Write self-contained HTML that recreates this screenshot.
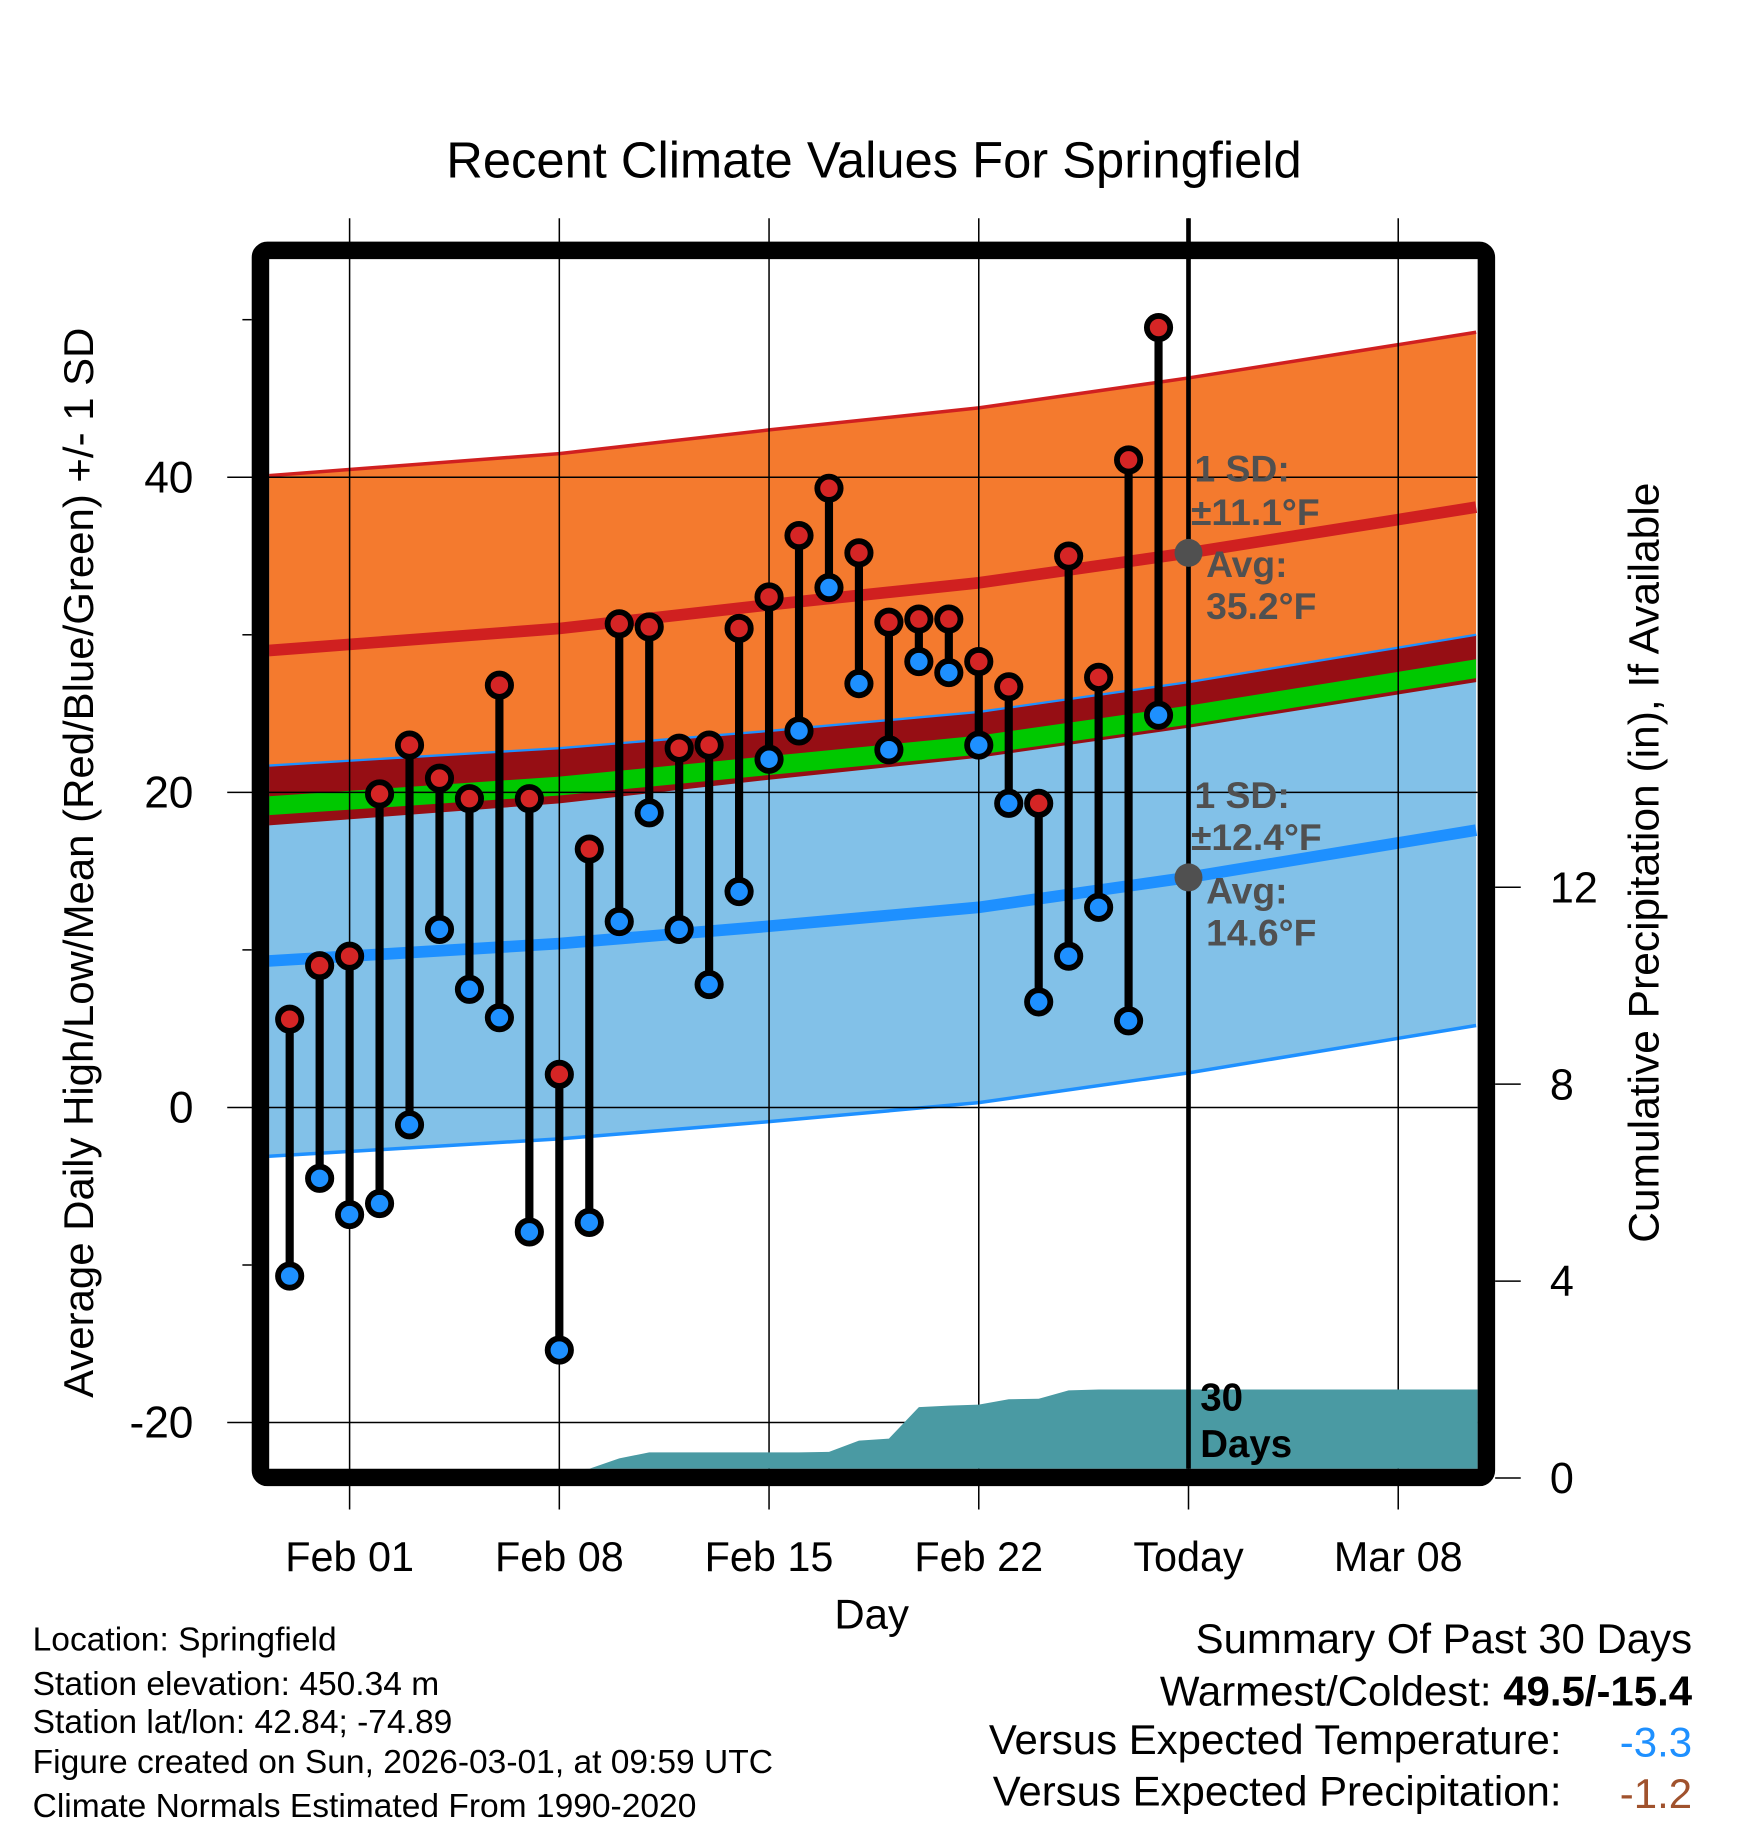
<!DOCTYPE html>
<html><head><meta charset="utf-8"><style>
html,body{margin:0;padding:0;background:#fff}
svg{display:block}
text{font-family:"Liberation Sans",Arial,sans-serif}
</style></head><body>
<svg id="chart" width="1748" height="1828" viewBox="0 0 1500 1568" xmlns="http://www.w3.org/2000/svg">
<g id="bands"></g>
<g id="grid"></g>
<g id="precip"></g>
<g id="marks"></g>
<g id="annot"></g>
<g id="frame"></g>
<g id="axes"></g>
<text x="750" y="152" font-size="43.5" text-anchor="middle">Recent Climate Values For Springfield</text>
<text x="748" y="1397" font-size="36" text-anchor="middle">Day</text>
<text transform="translate(80,740) rotate(-90)" font-size="36" text-anchor="middle">Average Daily High/Low/Mean (Red/Blue/Green) +/- 1 SD</text>
<text transform="translate(1423,740) rotate(-90)" font-size="36.5" text-anchor="middle">Cumulative Precipitation (in), If Available</text>
<g font-size="28.8">
<text x="28" y="1416">Location: Springfield</text>
<text x="28" y="1454">Station elevation: 450.34 m</text>
<text x="28" y="1487">Station lat/lon: 42.84; -74.89</text>
<text x="28" y="1521">Figure created on Sun, 2026-03-01, at 09:59 UTC</text>
<text x="28" y="1559">Climate Normals Estimated From 1990-2020</text>
</g>
<g font-size="36" text-anchor="end">
<text x="1452" y="1418">Summary Of Past 30 Days</text>
<text x="1452" y="1463">Warmest/Coldest: <tspan font-weight="bold">49.5/-15.4</tspan></text>
<text x="1340" y="1505">Versus Expected Temperature:</text>
<text x="1452" y="1507" fill="#1e90ff">-3.3</text>
<text x="1340" y="1549">Versus Expected Precipitation:</text>
<text x="1452" y="1551" fill="#a0522d">-1.2</text>
</g>
</svg>
<script>
// data
const highs = [5.6,9.0,9.6,19.9,23.0,20.9,19.6,26.8,19.6,2.1,16.4,30.7,30.5,22.8,23.0,30.4,32.4,36.3,39.3,35.2,30.8,31.0,31.0,28.3,26.7,19.3,35.0,27.3,41.1,49.5];
const lows = [-10.7,-4.5,-6.8,-6.1,-1.1,11.3,7.5,5.7,-7.9,-15.4,-7.3,11.8,18.7,11.3,7.8,13.7,22.1,23.9,33.0,26.9,22.7,28.3,27.6,23.0,19.3,6.7,9.6,12.7,5.5,24.9];
const precip = [0,0,0,0.02,0.05,0.05,0.08,0.1,0.12,0.15,0.19,0.4,0.52,0.52,0.52,0.52,0.52,0.52,0.53,0.76,0.8,1.44,1.47,1.49,1.6,1.61,1.78,1.8,1.8,1.8];
const normDays = [-2.7,7,14,21,28,37.6];
const normHigh = [29.0,30.4,31.9,33.3,35.2,38.1];
const normLow = [9.3,10.4,11.5,12.7,14.6,17.6];
const sdHigh = 11.1, sdLow = 12.4;
const xTickDays = [0,7,14,21,28,35];
const xTickLabels = ["Feb 01","Feb 08","Feb 15","Feb 22","Today","Mar 08"];
const yTicks = [-20,0,20,40];
const yMinor = [-10,10,30,50];
const pTicks = [0,4,8,12];
const firstDay = -2;

const NS="http://www.w3.org/2000/svg";
const X0=231,X1=1268,Y0=222,Y1=1260;
const x = d => 300 + d*25.71;
const y = t => 950 - t*13.52;
const py = p => 1268 - p*42.25;
function mk(tag, attrs, parent){const e=document.createElementNS(NS,tag);for(const k in attrs)e.setAttribute(k,attrs[k]);parent.appendChild(e);return e;}
const G=id=>document.getElementById(id);

const defs=mk('defs',{},G('chart'));
const cp=mk('clipPath',{id:'clip'},defs);
mk('rect',{x:X0,y:Y0,width:X1-X0,height:Y1-Y0},cp);
['bands','precip'].forEach(i=>G(i).setAttribute('clip-path','url(#clip)'));

function line(arr, off){return normDays.map((d,i)=>[x(d),y(arr[i]+off)]);}
function area(a,b){const p=a.concat(b.slice().reverse());return 'M'+p.map(q=>q[0].toFixed(1)+','+q[1].toFixed(1)).join('L')+'Z';}
function pl(a){return 'M'+a.map(q=>q[0].toFixed(1)+','+q[1].toFixed(1)).join('L');}
const b=G('bands');
const meanArr=normHigh.map((h,i)=>(h+normLow[i])/2);
let e;
e=mk('path',{d:area(line(normHigh,sdHigh),line(normHigh,-sdHigh)),fill:'#f47a2e'},b);


e=mk('path',{d:area(line(normLow,sdLow),line(normLow,-sdLow)),fill:'#82c1e8'},b);


e=mk('path',{d:area(line(normLow,sdLow),line(normHigh,-sdHigh)),fill:'#960e14'},b);


e=mk('path',{d:area(line(meanArr,0.6),line(meanArr,-0.6)),fill:'#00c800'},b);


e=mk('path',{d:pl(line(normHigh,0)),stroke:'#d02020',fill:'none','stroke-width':10},b);


e=mk('path',{d:pl(line(normHigh,sdHigh)),stroke:'#d02020',fill:'none','stroke-width':3},b);


e=mk('path',{d:pl(line(normLow,0)),stroke:'#1e90ff',fill:'none','stroke-width':10},b);


e=mk('path',{d:pl(line(normLow,sdLow)),stroke:'#1e90ff',fill:'none','stroke-width':2},b);


e=mk('path',{d:pl(line(normLow,-sdLow)),stroke:'#1e90ff',fill:'none','stroke-width':3},b);



const g=G('grid');
xTickDays.forEach(d=>{e=mk('line',{x1:x(d),x2:x(d),y1:187,y2:1295,stroke:'#000','stroke-width':1.3},g);

});
yTicks.forEach(t=>{e=mk('line',{x1:195,x2:X1,y1:y(t),y2:y(t),stroke:'#000','stroke-width':1.3},g);

});

const pts=precip.map((p,i)=>[x(firstDay+i),py(p)]);
const last=pts[pts.length-1];
const pp=[[pts[0][0],Y1+10]].concat(pts,[[X1+5,last[1]],[X1+5,Y1+10]]);
e=mk('path',{d:'M'+pp.map(q=>q[0].toFixed(1)+','+q[1].toFixed(1)).join('L')+'Z',fill:'#4a9aa3'},G('precip'));



e=mk('line',{x1:x(28),x2:x(28),y1:187,y2:Y1,stroke:'#000','stroke-width':4},G('annot'));



const m=G('marks');
highs.forEach((h,i)=>{const xx=x(firstDay+i);
 e=mk('line',{x1:xx,x2:xx,y1:y(h),y2:y(lows[i]),stroke:'#000','stroke-width':7},m);
 
 });
highs.forEach((h,i)=>{const xx=x(firstDay+i);
 e=mk('circle',{cx:xx,cy:y(h),r:10,fill:'#d52525',stroke:'#000','stroke-width':5},m);
 
 
 e=mk('circle',{cx:xx,cy:y(lows[i]),r:10,fill:'#1e90ff',stroke:'#000','stroke-width':5},m);
 
 });

const a=G('annot');
function txt(s,xx,yy,attrs,name){const t=mk('text',Object.assign({x:xx,y:yy},attrs),a);t.textContent=s;return t;}
const gs={'font-size':32,'font-weight':'bold',fill:'#505050'};
e=mk('circle',{cx:x(28),cy:y(35.2),r:12,fill:'#505050'},a);


e=mk('circle',{cx:x(28),cy:y(14.6),r:12,fill:'#505050'},a);


txt('1 SD:',1025,413,gs,'high-sd-label');
txt('±11.1°F',1022,450,gs,'high-sd-value');
txt('Avg:',1035,495,gs,'high-avg-label');
txt('35.2°F',1035,531,gs,'high-avg-value');
txt('1 SD:',1025,693,gs,'low-sd-label');
txt('±12.4°F',1022,729,gs,'low-sd-value');
txt('Avg:',1035,775,gs,'low-avg-label');
txt('14.6°F',1035,811,gs,'low-avg-value');
txt('30',1030,1210,{'font-size':33,'font-weight':'bold'},'days-count');
txt('Days',1030,1250,{'font-size':33,'font-weight':'bold'},'days-label');

e=mk('rect',{x:223.5,y:214.5,width:1052,height:1053,rx:6,fill:'none',stroke:'#000','stroke-width':15},G('frame'));



const ax=G('axes');
yTicks.forEach(t=>{e=mk('text',{x:166,y:y(t)+13,'font-size':38,'text-anchor':'end'},ax);e.textContent=t;

});
yMinor.forEach(t=>{e=mk('line',{x1:208,x2:216,y1:y(t),y2:y(t),stroke:'#000','stroke-width':1.3},ax);

});
xTickDays.forEach((d,i)=>{e=mk('text',{x:x(d),y:1348,'font-size':35.5,'text-anchor':'middle'},ax);e.textContent=xTickLabels[i];

});
pTicks.forEach(p=>{e=mk('line',{x1:1283,x2:1305,y1:py(p),y2:py(p),stroke:'#000','stroke-width':1.3},ax);


e=mk('text',{x:1330,y:py(p)+13,'font-size':37},ax);e.textContent=p;

});
</script>
</body></html>
